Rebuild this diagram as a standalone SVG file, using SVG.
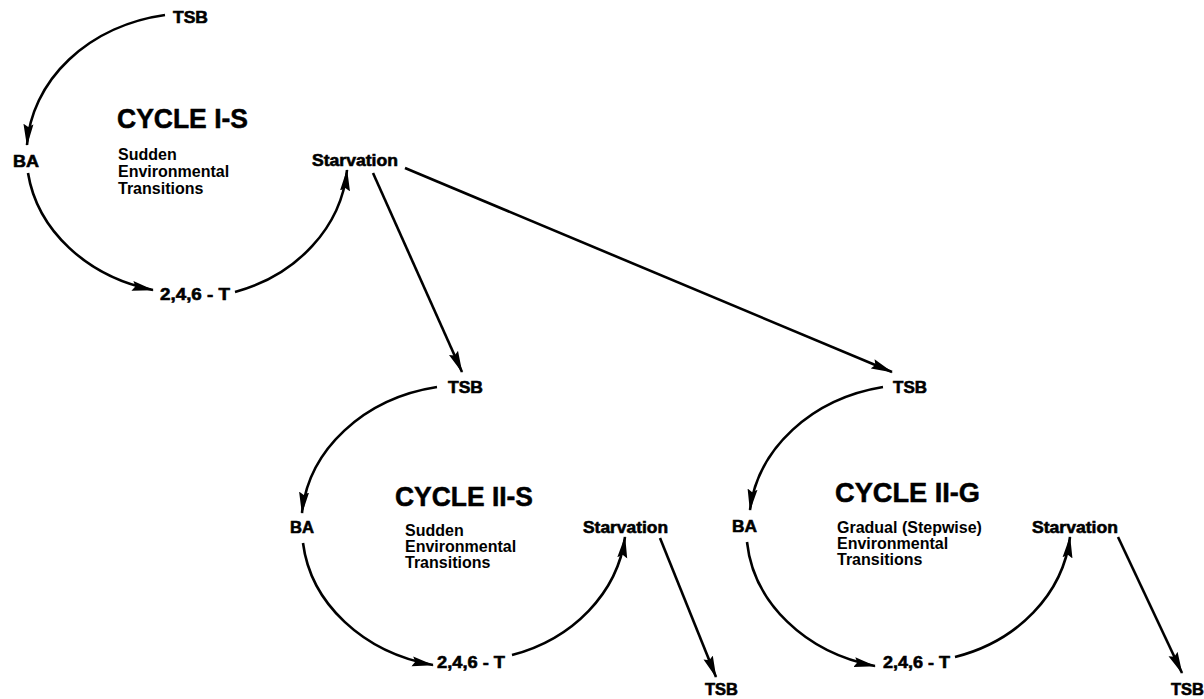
<svg xmlns="http://www.w3.org/2000/svg" width="1204" height="699" viewBox="0 0 1204 699">
<defs>
<style>
.lbl{font-family:"Liberation Sans",Arial,sans-serif;font-weight:bold;font-size:17px;fill:#000;stroke:#000;stroke-width:0.6}
.ttl{font-family:"Liberation Sans",Arial,sans-serif;font-weight:bold;font-size:27px;fill:#000;stroke:#000;stroke-width:0.5}
.sub{font-family:"Liberation Sans",Arial,sans-serif;font-weight:bold;font-size:16px;fill:#000}
.ln{fill:none;stroke:#000;stroke-width:2.6;marker-end:url(#ah)}
</style>
<marker id="ah" viewBox="0 0 22 11" markerWidth="22" markerHeight="11" refX="21" refY="5.5" orient="auto" markerUnits="userSpaceOnUse">
<path d="M0,0.5 L22,5.5 L0,10.5 L3,5.5 z" fill="#000"/>
</marker>
</defs>
<rect width="1204" height="699" fill="#fff"/>
<g id="connectors">
<path class="ln" d="M165,15 A165,140 0 0 0 27,145"/>
<path class="ln" d="M28,173 A165,140 0 0 0 153,290"/>
<path class="ln" d="M235,292 A160,140 0 0 0 347,170"/>
<path class="ln" d="M373,173 L462,372"/>
<path class="ln" d="M405,168 L892,372"/>
<path class="ln" d="M437,387 A165,140 0 0 0 302,513"/>
<path class="ln" d="M303,543 A165,140 0 0 0 433,665"/>
<path class="ln" d="M512,655 A160,140 0 0 0 625,537"/>
<path class="ln" d="M660,538 L716,677"/>
<path class="ln" d="M883,387 A165,140 0 0 0 750,510"/>
<path class="ln" d="M747,542 A165,140 0 0 0 875,666"/>
<path class="ln" d="M955,657 A160,140 0 0 0 1070,537"/>
<path class="ln" d="M1118,537 L1182,673"/>
</g>
<g id="cycle1">
<g id="n1-tsb"><text class="lbl" x="173" y="23" textLength="35" lengthAdjust="spacingAndGlyphs">TSB</text></g>
<g id="n1-ba"><text class="lbl" x="13" y="167" textLength="26" lengthAdjust="spacingAndGlyphs">BA</text></g>
<g id="n1-t"><text class="lbl" x="160" y="300" textLength="70" lengthAdjust="spacingAndGlyphs">2,4,6 - T</text></g>
<g id="n1-st"><text class="lbl" x="312" y="166" textLength="86" lengthAdjust="spacingAndGlyphs">Starvation</text></g>
<g id="n1-title"><text class="ttl" x="117" y="128" textLength="131" lengthAdjust="spacingAndGlyphs">CYCLE I-S</text>
<text class="sub" x="118" y="160">Sudden</text>
<text class="sub" x="118" y="177">Environmental</text>
<text class="sub" x="118" y="194">Transitions</text></g>
</g>
<g id="cycle2s">
<g id="n2-tsb"><text class="lbl" x="448" y="393" textLength="35" lengthAdjust="spacingAndGlyphs">TSB</text></g>
<g id="n2-ba"><text class="lbl" x="290" y="533" textLength="24" lengthAdjust="spacingAndGlyphs">BA</text></g>
<g id="n2-t"><text class="lbl" x="437" y="668" textLength="68" lengthAdjust="spacingAndGlyphs">2,4,6 - T</text></g>
<g id="n2-st"><text class="lbl" x="583" y="533" textLength="85" lengthAdjust="spacingAndGlyphs">Starvation</text></g>
<g id="n2-tsb2"><text class="lbl" x="705" y="695" textLength="33" lengthAdjust="spacingAndGlyphs">TSB</text></g>
<g id="n2-title"><text class="ttl" x="395" y="506" textLength="138" lengthAdjust="spacingAndGlyphs">CYCLE II-S</text>
<text class="sub" x="405" y="536">Sudden</text>
<text class="sub" x="405" y="552">Environmental</text>
<text class="sub" x="405" y="568">Transitions</text></g>
</g>
<g id="cycle2g">
<g id="n3-tsb"><text class="lbl" x="893" y="393" textLength="34" lengthAdjust="spacingAndGlyphs">TSB</text></g>
<g id="n3-ba"><text class="lbl" x="732" y="532" textLength="25" lengthAdjust="spacingAndGlyphs">BA</text></g>
<g id="n3-t"><text class="lbl" x="883" y="668" textLength="67" lengthAdjust="spacingAndGlyphs">2,4,6 - T</text></g>
<g id="n3-st"><text class="lbl" x="1032" y="533" textLength="86" lengthAdjust="spacingAndGlyphs">Starvation</text></g>
<g id="n3-tsb2"><text class="lbl" x="1171" y="695" textLength="33" lengthAdjust="spacingAndGlyphs">TSB</text></g>
<g id="n3-title"><text class="ttl" x="835" y="502" textLength="145" lengthAdjust="spacingAndGlyphs">CYCLE II-G</text>
<text class="sub" x="837" y="533">Gradual (Stepwise)</text>
<text class="sub" x="837" y="549">Environmental</text>
<text class="sub" x="837" y="565">Transitions</text></g>
</g>
</svg>
